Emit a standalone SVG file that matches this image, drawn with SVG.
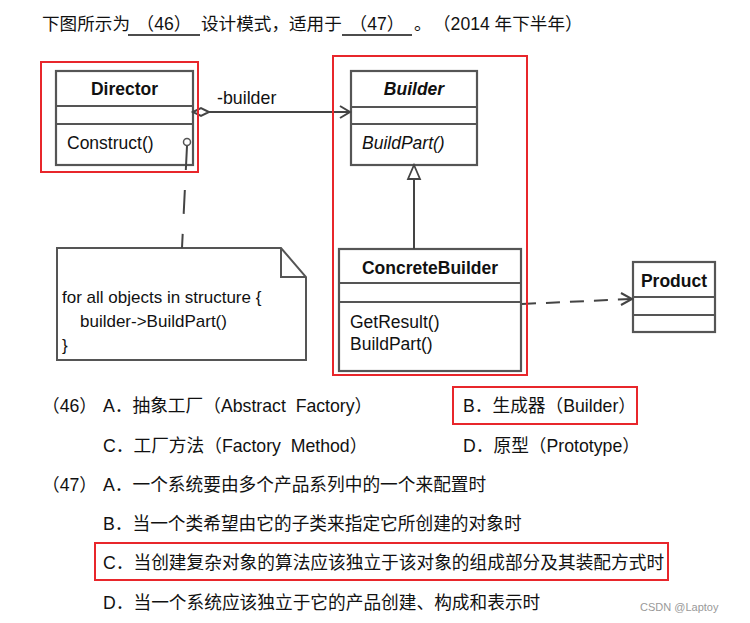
<svg xmlns="http://www.w3.org/2000/svg" width="750" height="623" viewBox="0 0 750 623">
<style>
.t{font-family:"Liberation Sans","Noto Sans CJK SC",sans-serif;font-size:17.6px;fill:#111}
.o{font-family:"Liberation Sans","Noto Sans CJK SC",sans-serif;font-size:17.7px;fill:#111}
.u{font-family:"Liberation Sans",sans-serif;fill:#111}
.box{fill:#fff;stroke:#555;stroke-width:2.2}
.div{stroke:#555;stroke-width:2}
.red{fill:none;stroke:#e8262b;stroke-width:2}
.con{fill:none;stroke:#444;stroke-width:2}
</style>
<rect width="750" height="623" fill="#fff"/>
<!-- question -->
<g id="question">
<text class="t" x="42" y="30">下图所示为</text>
<line x1="128" y1="35" x2="200" y2="35" stroke="#111" stroke-width="1.3"/>
<text class="t" x="164" y="30" text-anchor="middle">（46）</text>
<text class="t" x="201" y="30">设计模式，适用于</text>
<line x1="342" y1="35" x2="412" y2="35" stroke="#111" stroke-width="1.3"/>
<text class="t" x="377" y="30" text-anchor="middle">（47）</text>
<text class="t" x="414" y="30">。</text>
<text class="t" x="433" y="30">（2014 年下半年）</text>
</g>
<!-- Director -->
<g id="director">
<rect class="box" x="56" y="71" width="137" height="94"/>
<line class="div" x1="56" y1="106" x2="193" y2="106"/>
<line class="div" x1="56" y1="124" x2="193" y2="124"/>
<text class="u" x="124.5" y="95" font-size="17.5" font-weight="bold" text-anchor="middle">Director</text>
<text class="u" x="67" y="149" font-size="17.5">Construct()</text>
<circle cx="187" cy="142" r="3.5" fill="#fff" stroke="#555" stroke-width="1.5"/>
</g>
<!-- Builder -->
<g id="builder">
<rect class="box" x="351" y="71" width="126" height="94"/>
<line class="div" x1="351" y1="107" x2="477" y2="107"/>
<line class="div" x1="351" y1="124" x2="477" y2="124"/>
<text class="u" x="414" y="95" font-size="17.5" font-weight="bold" font-style="italic" text-anchor="middle">Builder</text>
<text class="u" x="362" y="149" font-size="17.5" font-style="italic">BuildPart()</text>
</g>
<!-- ConcreteBuilder -->
<g id="concretebuilder">
<rect class="box" x="339" y="249" width="182" height="122"/>
<line class="div" x1="339" y1="283" x2="521" y2="283"/>
<line class="div" x1="339" y1="302" x2="521" y2="302"/>
<text class="u" x="430" y="274" font-size="17.5" font-weight="bold" text-anchor="middle">ConcreteBuilder</text>
<text class="u" x="350" y="328" font-size="17.5">GetResult()</text>
<text class="u" x="350" y="350" font-size="17.5">BuildPart()</text>
</g>
<!-- Product -->
<g id="product">
<rect class="box" x="633" y="262" width="82" height="70"/>
<line class="div" x1="633" y1="297" x2="715" y2="297"/>
<line class="div" x1="633" y1="315" x2="715" y2="315"/>
<text class="u" x="674" y="287" font-size="17.5" font-weight="bold" text-anchor="middle">Product</text>
</g>
<!-- Note -->
<g id="note">
<path d="M57,248 H281 L306,277 V360 H57 Z" fill="#fff" stroke="#555" stroke-width="2"/>
<path d="M281,248 V277 H306" fill="none" stroke="#555" stroke-width="2"/>
<text class="u" x="62" y="303" font-size="17">for all objects in structure {</text>
<text class="u" x="80" y="327" font-size="17">builder-&gt;BuildPart()</text>
<text class="u" x="62" y="351" font-size="17">}</text>
</g>
<!-- connectors -->
<g id="connectors">
<path d="M193,112 L201,108 L209,112 L201,116 Z" fill="#fff" stroke="#444" stroke-width="2"/>
<line class="con" x1="209" y1="112" x2="349" y2="112"/>
<path class="con" d="M340,106 L350,112 L340,118"/>
<text class="u" x="217" y="104" font-size="17.8">-builder</text>
<path d="M414,165 L420,179 L408,179 Z" fill="#fff" stroke="#444" stroke-width="1.8"/>
<line class="con" x1="414" y1="179" x2="414" y2="249"/>
<line class="con" x1="522" y1="304" x2="631" y2="299" stroke-dasharray="14 10"/>
<path class="con" d="M621,293 L632,299 L621,305"/>
<line class="con" x1="187" y1="146" x2="182" y2="248" stroke-dasharray="24 20"/>
</g>
<!-- red highlight boxes -->
<g id="highlights">
<rect class="red" x="41" y="62" width="157" height="110"/>
<rect class="red" x="333" y="56" width="194" height="319"/>
<rect class="red" x="453" y="387" width="184" height="37"/>
<rect class="red" x="95" y="543" width="573" height="37"/>
</g>
<!-- options -->
<g id="options">
<text class="o" x="42" y="412">（46）</text>
<text class="o" x="103" y="412">A．抽象工厂（Abstract&#160; Factory）</text>
<text class="o" x="463" y="412">B．生成器（Builder）</text>
<text class="o" x="103" y="452">C．工厂方法（Factory&#160; Method）</text>
<text class="o" x="463" y="452">D．原型（Prototype）</text>
<text class="o" x="42" y="491">（47）</text>
<text class="o" x="103" y="491">A．一个系统要由多个产品系列中的一个来配置时</text>
<text class="o" x="103" y="530">B．当一个类希望由它的子类来指定它所创建的对象时</text>
<text class="o" x="103" y="569">C．当创建复杂对象的算法应该独立于该对象的组成部分及其装配方式时</text>
<text class="o" x="103" y="609">D．当一个系统应该独立于它的产品创建、构成和表示时</text>
<text x="640" y="611" font-family="Liberation Sans,sans-serif" font-size="11" fill="#999">CSDN @Laptoy</text>
</g>
</svg>
